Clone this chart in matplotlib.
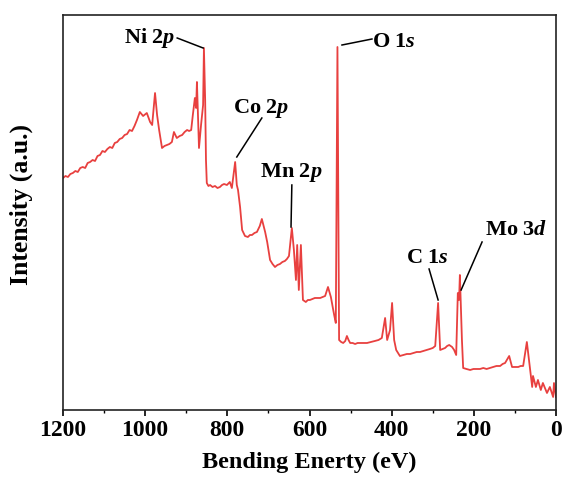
import matplotlib
matplotlib.use("Agg")
import matplotlib.pyplot as plt

plt.rcParams['font.family'] = ['Liberation Serif', 'DejaVu Serif']
plt.rcParams['font.weight'] = 'bold'
plt.rcParams['mathtext.fontset'] = 'custom'
plt.rcParams['mathtext.rm'] = 'Liberation Serif:bold'
plt.rcParams['mathtext.it'] = 'Liberation Serif:italic:bold'
plt.rcParams['mathtext.bf'] = 'Liberation Serif:bold'

# Binding energy (eV) and intensity (a.u.)
energy = [1200, 1194, 1188, 1182, 1176, 1170, 1164, 1158, 1152, 1146, 1140, 1134,
          1128, 1122, 1116, 1110, 1104, 1098, 1092, 1086, 1080, 1074, 1068, 1062,
          1056, 1050, 1044, 1038, 1032, 1026, 1020, 1013, 1005, 996, 988, 983,
          976, 971, 966, 959, 953, 947, 941, 935, 930, 923, 916, 910, 904, 898,
          893, 888, 884, 879, 876, 874, 871, 869, 864, 859, 857, 854, 852, 850,
          846, 842, 836, 830, 824, 818, 813, 808, 801, 794, 789, 781, 777, 774,
          769, 764, 757, 750, 745, 740, 734, 728, 721, 716, 708, 703, 696, 690,
          684, 678, 672, 666, 660, 655, 650, 643, 638, 633, 630, 626, 621, 616,
          609, 604, 599, 593, 587, 580, 574, 568, 562, 555, 548, 540, 536, 532,
          528, 523, 518, 513, 509, 505, 501, 495, 489, 483, 477, 469, 460, 450,
          441, 432, 424, 416, 411, 404, 399, 394, 389, 380, 371, 363, 355, 347,
          339, 331, 323, 315, 307, 300, 294, 287, 282, 276, 270, 265, 260, 253,
          248, 243, 239, 236, 234, 229, 226, 218, 209, 201, 193, 185, 177, 169,
          161, 153, 145, 136, 130, 124, 114, 107, 100, 92, 86, 80, 71, 63, 58,
          56, 49, 44, 37, 32, 22, 15, 7, 5, 0]
intensity = [232, 234, 233, 236, 237, 239, 238, 242, 243, 242, 247, 248,
             250, 249, 254, 255, 259, 258, 261, 263, 262, 267, 268, 271,
             272, 275, 276, 280, 279, 284, 290, 298, 294, 297, 288, 285,
             317, 295, 280, 262, 264, 265, 266, 268, 278, 272, 274, 275, 278, 280,
             279, 280, 295, 312, 302, 328, 290, 262, 285, 305, 362, 310, 250, 227,
             224, 225, 223, 224, 222, 223, 225, 226, 225, 228, 222, 248, 225, 220,
             203, 180, 174, 173, 175, 175, 177, 178, 184, 191, 178, 168, 150, 146,
             143, 145, 146, 148, 149, 151, 154, 182, 160, 130, 165, 120, 165, 110,
             108, 110, 110, 111, 112, 112, 112, 113, 114, 123, 113, 95, 87, 363,
             70, 68, 67, 69, 74, 70, 67, 67, 66, 67, 67, 67, 67, 68,
             69, 70, 72, 92, 70, 80, 107, 70, 60, 54, 55, 56, 56, 57,
             58, 58, 59, 60, 61, 62, 64, 107, 60, 61, 62, 64, 65, 63,
             60, 55, 117, 110, 135, 70, 42, 41, 40, 41, 41, 41, 42, 41,
             42, 43, 44, 44, 46, 47, 54, 43, 43, 43, 44, 44, 68, 40, 23,
             34, 23, 30, 20, 27, 17, 23, 13, 27, 13]

# Peak labels
labels = ['Ni 2$p$', 'Co 2$p$', 'Mn 2$p$', 'O 1$s$', 'C 1$s$', 'Mo 3$d$']

x_ticks = [1200, 1000, 800, 600, 400, 200, 0]

fig = plt.figure(figsize=(5.63, 4.92), dpi=100)
ax = fig.add_axes([0.1119, 0.1667, 0.8757, 0.8028])

ax.plot(energy, intensity, color='#E8403F', lw=1.3)

ax.set_xlim(1200, 0)
ax.set_ylim(0, 395)
ax.set_xticks(x_ticks)
ax.set_xticks(range(100, 1200, 200), minor=True)
ax.set_yticks([])
ax.tick_params(axis='x', which='major', direction='out', length=4, width=1.2,
               labelsize=17, pad=3)
ax.tick_params(axis='x', which='minor', direction='out', length=2.5, width=1.0)
for lab in ax.get_xticklabels():
    lab.set_fontweight('bold')
for s in ax.spines.values():
    s.set_linewidth(1.2)
    s.set_color('#222222')

ax.set_xlabel('Bending Enerty (eV)', fontsize=17.5, fontweight='bold', labelpad=8)
ax.set_ylabel('Intensity (a.u.)', fontsize=18.5, fontweight='bold')
ax.yaxis.set_label_coords(-0.061, 0.52)

fs = 16
lc = 'black'
lw = 1.1
# Ni 2p
ax.text(927, 372, labels[0], ha='right', va='center', fontsize=fs, fontweight='bold')
ax.plot([922, 859], [372, 362], color=lc, lw=lw)
# Co 2p
ax.text(718, 302, labels[1], ha='center', va='center', fontsize=fs, fontweight='bold')
ax.plot([716, 777], [292, 253], color=lc, lw=lw)
# Mn 2p
ax.text(645, 237, labels[2], ha='center', va='center', fontsize=fs, fontweight='bold')
ax.plot([643, 645], [225, 183], color=lc, lw=lw)
# O 1s
ax.text(448, 368, labels[3], ha='left', va='center', fontsize=fs, fontweight='bold')
ax.plot([521, 448], [365, 371], color=lc, lw=lw)
# C 1s
ax.text(312, 152, labels[4], ha='center', va='center', fontsize=fs, fontweight='bold')
ax.plot([309, 287], [141, 110], color=lc, lw=lw)
# Mo 3d
ax.text(97, 180, labels[5], ha='center', va='center', fontsize=fs, fontweight='bold')
ax.plot([180, 231], [168, 120], color=lc, lw=lw)

fig.savefig('out.png', dpi=100)
